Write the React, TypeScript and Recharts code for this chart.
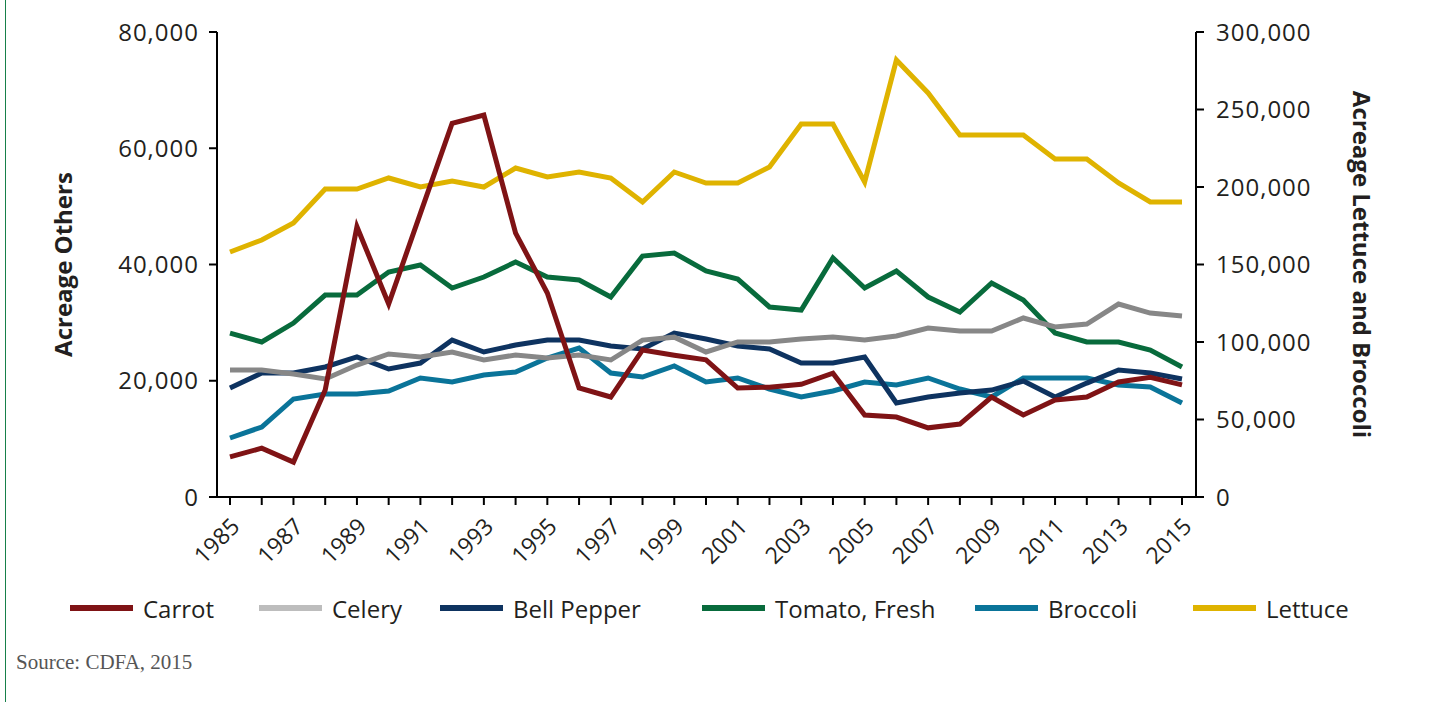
import React from 'react';
import { LineChart, Line, XAxis, YAxis } from 'recharts';

const YEARS = ['1985','1986','1987','1988','1989','1990','1991','1992','1993','1994','1995','1996','1997','1998','1999','2000','2001','2002','2003','2004','2005','2006','2007','2008','2009','2010','2011','2012','2013','2014','2015'];

const CARROT = [6900, 8400, 6000, 18400, 46500, 33200, 48800, 64300, 65700, 45400, 35100, 18750, 17200, 25300, 24400, 23600, 18750, 18900, 19400, 21300, 14100, 13750, 11900, 12550, 17200, 14100, 16700, 17200, 19800, 20600, 19300];
const CELERY = [21850, 21850, 21150, 20300, 22700, 24600, 24100, 24950, 23570, 24430, 23900, 24430, 23570, 27000, 27500, 24950, 26670, 26670, 27180, 27530, 27000, 27700, 29070, 28560, 28560, 30800, 29250, 29760, 33200, 31650, 31140];
const BELL_PEPPER = [18750, 21330, 21330, 22370, 24090, 22020, 23050, 27000, 24950, 26150, 27000, 27000, 25980, 25460, 28200, 27180, 25980, 25460, 23050, 23050, 24090, 16170, 17200, 17890, 18400, 19960, 17200, 19600, 21850, 21330, 20300];
const TOMATO = [28200, 26670, 29930, 34750, 34750, 38710, 39910, 35950, 37850, 40430, 37850, 37330, 34400, 41460, 41980, 38880, 37500, 32690, 32170, 41120, 35950, 38880, 34400, 31830, 36820, 33890, 28210, 26670, 26670, 25290, 22370];
const BROCCOLI = [38060, 45160, 63230, 66450, 66450, 68390, 76770, 74190, 78710, 80650, 89680, 96130, 80000, 77420, 84520, 74190, 76770, 69680, 64520, 68390, 74190, 72260, 76770, 69680, 64520, 76770, 76770, 76770, 72260, 70970, 60650];
const LETTUCE = [158060, 165810, 176770, 198710, 198710, 205810, 200000, 203870, 200000, 212260, 206450, 209680, 205810, 190320, 209680, 202580, 202580, 212900, 240650, 240650, 203230, 281930, 260650, 233550, 233550, 233550, 218060, 218060, 202580, 190320, 190320];

const LEFT_TICKS = [0, 20000, 40000, 60000, 80000];
const RIGHT_TICKS = [0, 50000, 100000, 150000, 200000, 250000, 300000];

const SERIES = [
  { key: 'carrot', name: 'Carrot', color: '#7f1315', legendColor: '#7f1315', axis: 'left' },
  { key: 'celery', name: 'Celery', color: '#878787', legendColor: '#bdbdbd', axis: 'left' },
  { key: 'bellPepper', name: 'Bell Pepper', color: '#0e3360', legendColor: '#0e3360', axis: 'left' },
  { key: 'tomato', name: 'Tomato, Fresh', color: '#086b3c', legendColor: '#086b3c', axis: 'left' },
  { key: 'broccoli', name: 'Broccoli', color: '#0a7499', legendColor: '#0a7499', axis: 'right' },
  { key: 'lettuce', name: 'Lettuce', color: '#dfb300', legendColor: '#dfb300', axis: 'right' },
];

const data = YEARS.map((year, i) => ({
  year,
  carrot: CARROT[i],
  celery: CELERY[i],
  bellPepper: BELL_PEPPER[i],
  tomato: TOMATO[i],
  broccoli: BROCCOLI[i],
  lettuce: LETTUCE[i],
}));

const FONT = '"Open Sans", sans-serif';
const TEXT = '#231f20';
const fmt = (v: number) => v.toLocaleString('en-US');

function XTick(props: any) {
  const { x, y, payload } = props;
  const yr = Number(payload.value);
  if (yr % 2 === 0) return <g />;
  return (
    <g transform={`translate(${x + 11},${y + 21})`}>
      <text textAnchor="end" transform="rotate(-45)" fontSize={23} fill={TEXT} fontFamily={FONT}>
        {payload.value}
      </text>
    </g>
  );
}

function LeftTitle(props: any) {
  const vb = props.viewBox || {};
  const cx = vb.x - 25;
  const cy = vb.y + vb.height / 2;
  return (
    <text x={cx} y={cy} transform={`rotate(-90, ${cx}, ${cy})`} textAnchor="middle" fontSize={24} fontWeight={700} fill={TEXT} fontFamily={FONT}>
      Acreage Others
    </text>
  );
}

function RightTitle(props: any) {
  const vb = props.viewBox || {};
  const cx = vb.x + 157;
  const cy = vb.y + vb.height / 2;
  return (
    <text x={cx} y={cy} transform={`rotate(90, ${cx}, ${cy})`} textAnchor="middle" fontSize={24} fontWeight={700} fill={TEXT} fontFamily={FONT}>
      Acreage Lettuce and Broccoli
    </text>
  );
}

const LEGEND_LEFT = [70, 259, 440, 702, 975, 1193];

function LegendRow() {
  return (
    <div style={{ position: 'absolute', left: 0, top: 591, width: 1440, height: 34, fontFamily: FONT, fontSize: 24, color: TEXT, whiteSpace: 'nowrap' }}>
      {SERIES.map((s, i) => (
        <div key={s.key} style={{ position: 'absolute', left: LEGEND_LEFT[i], top: 0, display: 'flex', alignItems: 'center', height: 34 }}>
          <div style={{ width: 63, height: 6, background: s.legendColor, marginRight: 10 }} />
          <span>{s.name}</span>
        </div>
      ))}
    </div>
  );
}

export default function App() {
  const axisStroke = { stroke: '#000', strokeWidth: 2 };
  return (
    <div style={{ position: 'absolute', left: 0, top: 0, width: 1440, height: 702, background: '#fff', overflow: 'hidden' }}>
      <div style={{ position: 'absolute', left: 5, top: 0, width: 1, height: 702, background: '#17804a' }} />
      <LineChart width={1440} height={584} data={data} margin={{ top: 32, right: 64, bottom: 27, left: 97 }}>
        <XAxis
          dataKey="year"
          interval={0}
          padding={{ left: 13, right: 14 }}
          height={60}
          tick={<XTick />}
          tickSize={8}
          axisLine={axisStroke}
          tickLine={axisStroke}
        />
        <YAxis
          yAxisId="left"
          orientation="left"
          width={120}
          domain={[0, 80000]}
          ticks={LEFT_TICKS}
          tickFormatter={fmt}
          tickSize={8}
          tickMargin={10}
          axisLine={axisStroke}
          tickLine={axisStroke}
          tick={{ fontSize: 24, fill: TEXT, fontFamily: FONT, letterSpacing: 1 }}
          label={<LeftTitle />}
        />
        <YAxis
          yAxisId="right"
          orientation="right"
          width={180}
          domain={[0, 300000]}
          ticks={RIGHT_TICKS}
          tickFormatter={fmt}
          tickSize={8}
          tickMargin={12}
          axisLine={axisStroke}
          tickLine={axisStroke}
          tick={{ fontSize: 24, fill: TEXT, fontFamily: FONT, letterSpacing: 1 }}
          label={<RightTitle />}
        />
        {[...SERIES].reverse().map((s) => (
          <Line
            key={s.key}
            yAxisId={s.axis}
            type="linear"
            dataKey={s.key}
            name={s.name}
            stroke={s.color}
            strokeWidth={5}
            dot={false}
            activeDot={false}
            isAnimationActive={false}
          />
        ))}
      </LineChart>
      <LegendRow />
      <div style={{ position: 'absolute', left: 16, top: 650, fontFamily: '"Liberation Serif", serif', fontSize: 21, color: '#555' }}>
        Source: CDFA, 2015
      </div>
    </div>
  );
}
